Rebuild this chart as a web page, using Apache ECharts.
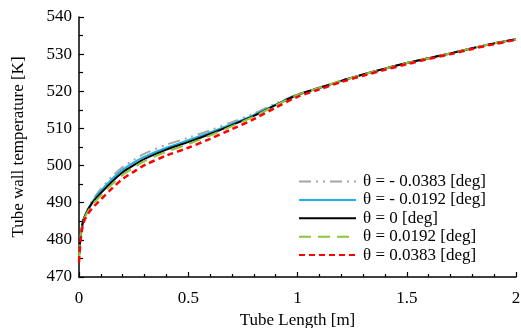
<!DOCTYPE html>
<html>
<head>
<meta charset="utf-8">
<script src="https://cdn.jsdelivr.net/npm/echarts@6/dist/echarts.min.js"></script>
<style>html,body{margin:0;padding:0;background:#fff}#c{width:521px;height:328px}</style>
</head>
<body>
<div id="c"></div>
<script>
const xLen = [0, 0.005, 0.01, 0.02, 0.03, 0.04, 0.06, 0.08, 0.1, 0.15, 0.2, 0.25, 0.3, 0.4, 0.5, 0.6, 0.7, 0.8, 0.9, 1.0, 1.1, 1.2, 1.3, 1.4, 1.5, 1.6, 1.7, 1.8, 1.9, 2.0];
const tNeg0383 = [475.5, 479.5, 482.3, 485.3, 487.0, 488.4, 490.5, 492.2, 493.7, 497.0, 499.6, 501.5, 503.2, 505.6, 507.5, 509.5, 511.7, 514.0, 516.7, 519.2, 521.0, 522.8, 524.5, 526.1, 527.6, 528.9, 530.2, 531.6, 532.9, 534.0];
const tNeg0192 = [475.5, 479.5, 482.3, 485.3, 486.9, 488.2, 490.2, 491.8, 493.2, 496.3, 498.9, 500.8, 502.4, 504.8, 506.8, 508.9, 511.2, 513.6, 516.4, 519.0, 520.9, 522.8, 524.5, 526.1, 527.6, 528.9, 530.2, 531.6, 532.9, 534.0];
const tZero = [475.5, 479.5, 482.3, 485.3, 486.8, 488.0, 489.9, 491.3, 492.6, 495.6, 498.2, 500.1, 501.8, 504.3, 506.3, 508.5, 510.9, 513.4, 516.3, 519.0, 520.9, 522.8, 524.5, 526.1, 527.6, 528.9, 530.2, 531.6, 532.9, 534.0];
const tPos0192 = [475.5, 479.5, 482.3, 485.2, 486.5, 487.6, 489.4, 490.7, 491.9, 494.9, 497.5, 499.4, 501.2, 503.7, 505.8, 508.1, 510.6, 513.2, 516.2, 519.0, 520.9, 522.8, 524.5, 526.1, 527.6, 528.9, 530.2, 531.6, 532.9, 534.0];
const tPos0383 = [474.0, 478.3, 481.3, 484.5, 485.9, 486.9, 488.5, 489.7, 490.9, 493.8, 496.4, 498.3, 500.1, 502.7, 504.8, 507.2, 509.8, 512.5, 515.6, 518.5, 520.5, 522.5, 524.2, 525.8, 527.3, 528.7, 530.0, 531.4, 532.7, 533.9];
const seriesNames = ['θ = - 0.0383 [deg]', 'θ = - 0.0192 [deg]', 'θ = 0 [deg]', 'θ = 0.0192 [deg]', 'θ = 0.0383 [deg]'];
const xTitle = 'Tube Length [m]';
const yTitle = 'Tube wall temperature [K]';

const font = 'Liberation Serif';
const pair = (arr) => xLen.map((x, i) => [x, arr[i]]);
const styles = [
  {color: '#a6a6a6', width: 2, type: [12, 5, 2, 5, 2, 5]},
  {color: '#1fb0e6', width: 2, type: 'solid'},
  {color: '#000000', width: 2, type: 'solid'},
  {color: '#8cc63f', width: 2, type: [12, 7]},
  {color: '#ff0000', width: 2.5, type: [6, 4]}
];
const data = [tNeg0383, tNeg0192, tZero, tPos0192, tPos0383];

const chart = echarts.init(document.getElementById('c'), null, {renderer: 'canvas'});
chart.setOption({
  animation: false,
  textStyle: {fontFamily: font, color: '#000'},
  grid: {left: 79, right: 5, top: 17, bottom: 51, containLabel: false, outerBoundsMode: 'none'},
  legend: {
    orient: 'vertical', left: 298, top: 173, padding: 0,
    itemWidth: 57, itemHeight: 12, itemGap: 1.4,
    itemStyle: {opacity: 0},
    textStyle: {fontFamily: font, fontSize: 17, color: '#000', padding: [0, 0, 0, 2]},
    data: seriesNames
  },
  xAxis: {
    type: 'value', min: 0, max: 2, interval: 0.5,
    name: xTitle, nameLocation: 'middle', nameGap: 31,
    nameTextStyle: {fontFamily: font, fontSize: 17, color: '#000'},
    axisLine: {lineStyle: {color: '#000', width: 1.5}},
    axisTick: {inside: true, length: 5, lineStyle: {color: '#000', width: 1.2}},
    minorTick: {show: true, splitNumber: 5, length: 3, lineStyle: {color: '#000', width: 1.2}},
    axisLabel: {fontFamily: font, fontSize: 17, color: '#000', margin: 13},
    splitLine: {show: false}
  },
  yAxis: {
    type: 'value', min: 470, max: 540, interval: 10,
    name: yTitle, nameLocation: 'middle', nameGap: 52,
    nameTextStyle: {fontFamily: font, fontSize: 17, color: '#000'},
    axisLine: {show: true, lineStyle: {color: '#000', width: 1.5}},
    axisTick: {show: true, inside: true, length: 5, lineStyle: {color: '#000', width: 1.2}},
    minorTick: {show: true, splitNumber: 2, length: 4, lineStyle: {color: '#000', width: 1.2}},
    axisLabel: {fontFamily: font, fontSize: 17, color: '#000', margin: 7},
    splitLine: {show: false}
  },
  series: seriesNames.map((n, i) => ({
    name: n, type: 'line', data: pair(data[i]), smooth: 0.3, symbol: 'none',
    lineStyle: styles[i], itemStyle: {color: styles[i].color}, z: 2 + i
  }))
});
</script>
</body>
</html>
